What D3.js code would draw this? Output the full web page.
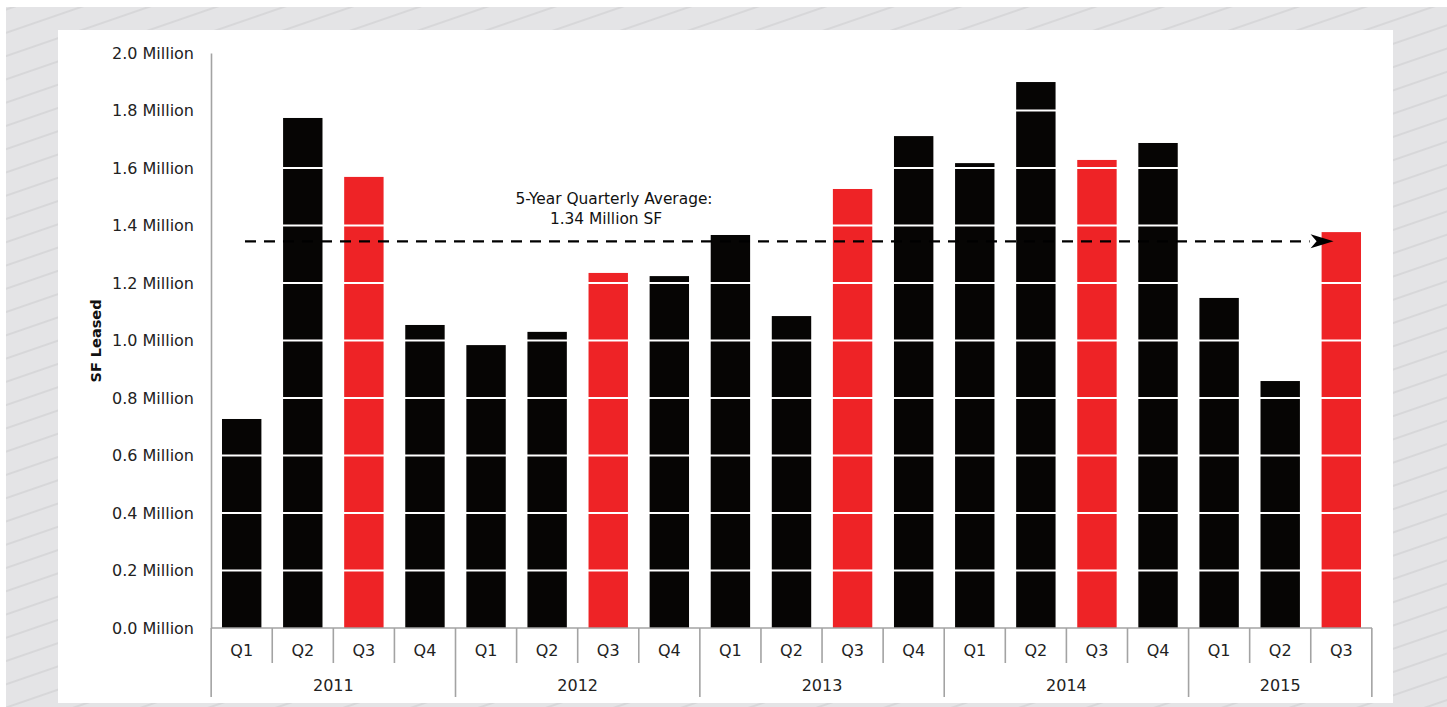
<!DOCTYPE html>
<html>
<head>
<meta charset="utf-8">
<script src="https://cdn.jsdelivr.net/npm/d3@7"></script>
<style>
  html, body { margin: 0; padding: 0; background: #ffffff; }
  svg { display: block; font-family: "DejaVu Sans", sans-serif; }
</style>
</head>
<body>
<svg id="chart" width="1447" height="707"></svg>
<script>
// -------*****--------^^^^-------*****--------
//               Data
// -------*****--------^^^^-------*****--------
var years = ["2011", "2012", "2013", "2014", "2015"];
var barYears    = ["2011","2011","2011","2011","2012","2012","2012","2012","2013","2013","2013","2013","2014","2014","2014","2014","2015","2015","2015"];
var barQuarters = ["Q1","Q2","Q3","Q4","Q1","Q2","Q3","Q4","Q1","Q2","Q3","Q4","Q1","Q2","Q3","Q4","Q1","Q2","Q3"];
// SF leased, in millions
var sfLeased = [0.727, 1.774, 1.569, 1.054, 0.984, 1.030, 1.235, 1.224, 1.367, 1.085, 1.527, 1.711, 1.617, 1.899, 1.628, 1.687, 1.148, 0.859, 1.377];

var yTicks = [0, 0.2, 0.4, 0.6, 0.8, 1.0, 1.2, 1.4, 1.6, 1.8, 2.0];
var yTickLabels = ["0.0 Million","0.2 Million","0.4 Million","0.6 Million","0.8 Million","1.0 Million","1.2 Million","1.4 Million","1.6 Million","1.8 Million","2.0 Million"];

var avgValue = 1.345;
var avgLines = ["5-Year Quarterly Average:", "1.34 Million SF"];
var yTitle = "SF Leased";

var BLACK = "#060504";
var RED = "#ee2326";
var AXIS_GREY = "#a3a3a3";

var bars = sfLeased.map(function(v, i) {
  return { key: barYears[i] + "-" + barQuarters[i], year: barYears[i], quarter: barQuarters[i], value: v };
});

var svg = d3.select("#chart");

// -------*****--------^^^^-------*****--------
//               Striped background + white panel
// -------*****--------^^^^-------*****--------
var defs = svg.append("defs");
var pat = defs.append("pattern")
    .attr("id", "stripes")
    .attr("patternUnits", "userSpaceOnUse")
    .attr("width", 60)
    .attr("height", 22)
    .attr("patternTransform", "rotate(-19)");
pat.append("rect").attr("width", 60).attr("height", 22).attr("fill", "#e4e4e6");
pat.append("line")
    .attr("x1", 0).attr("x2", 60).attr("y1", 11).attr("y2", 11)
    .attr("stroke", "#d3d3d5").attr("stroke-width", 1.6);

svg.append("rect")
    .attr("x", 6).attr("y", 7).attr("width", 1441).attr("height", 700)
    .attr("fill", "url(#stripes)");

svg.append("rect")
    .attr("x", 58).attr("y", 30).attr("width", 1335).attr("height", 673)
    .attr("fill", "#ffffff");

// -------*****--------^^^^-------*****--------
//               Scales
// -------*****--------^^^^-------*****--------
var xScale = d3.scaleBand()
    .domain(bars.map(function(d) { return d.key; }))
    .range([211, 1372])
    .paddingInner(0.355)
    .paddingOuter(0.18);

var yScale = d3.scaleLinear()
    .domain([0, 2])
    .range([628, 53]);

var halfGap = (xScale.step() - xScale.bandwidth()) / 2;
function bandStart(key) { return xScale(key) - halfGap; }

// -------*****--------^^^^-------*****--------
//               Bars + white gridlines on top
// -------*****--------^^^^-------*****--------
svg.append("g").selectAll("rect")
    .data(bars)
  .enter().append("rect")
    .attr("x", function(d) { return xScale(d.key); })
    .attr("y", function(d) { return yScale(d.value); })
    .attr("width", xScale.bandwidth())
    .attr("height", function(d) { return yScale(0) - yScale(d.value); })
    .style("fill", function(d) { return d.quarter == "Q3" ? RED : BLACK; });

svg.append("g").selectAll("line")
    .data(yTicks.filter(function(t) { return t > 0; }))
  .enter().append("line")
    .attr("x1", 212).attr("x2", 1372)
    .attr("y1", function(d) { return yScale(d); })
    .attr("y2", function(d) { return yScale(d); })
    .style("stroke", "#ffffff")
    .style("stroke-width", 2);

// -------*****--------^^^^-------*****--------
//               Y axis
// -------*****--------^^^^-------*****--------
var yAxis = svg.append("g")
    .attr("transform", "translate(211,0)")
    .call(d3.axisLeft(yScale)
      .tickValues(yTicks)
      .tickFormat(function(d, i) { return yTickLabels[i]; })
      .tickSize(0)
      .tickPadding(17));
yAxis.select(".domain").attr("stroke", AXIS_GREY).attr("stroke-width", 1.6);
yAxis.selectAll("text")
    .attr("font-family", "DejaVu Sans, sans-serif")
    .attr("font-size", 16)
    .attr("fill", "#222222");

svg.append("text")
    .attr("transform", "translate(101,341) rotate(-90)")
    .attr("text-anchor", "middle")
    .style("font-size", "14.5px")
    .style("font-weight", "bold")
    .style("fill", "#111111")
    .text(yTitle);

// -------*****--------^^^^-------*****--------
//               X axis (quarters + years)
// -------*****--------^^^^-------*****--------
var xg = svg.append("g");
xg.append("line")
    .attr("x1", 211).attr("x2", 1372)
    .attr("y1", yScale(0)).attr("y2", yScale(0))
    .style("stroke", AXIS_GREY).style("stroke-width", 1.6);

// quarter separators
xg.selectAll("line.qsep")
    .data(bars.filter(function(d) { return d.quarter != "Q1"; }))
  .enter().append("line")
    .attr("class", "qsep")
    .attr("x1", function(d) { return bandStart(d.key); })
    .attr("x2", function(d) { return bandStart(d.key); })
    .attr("y1", yScale(0)).attr("y2", 663)
    .style("stroke", AXIS_GREY).style("stroke-width", 1.6);

// year separators
var yearGroups = years.map(function(y) {
  var keys = bars.filter(function(d) { return d.year == y; }).map(function(d) { return d.key; });
  var x0 = bandStart(keys[0]);
  var x1 = bandStart(keys[keys.length - 1]) + xScale.step();
  return { year: y, x0: x0, x1: x1 };
});
var yearEdges = yearGroups.map(function(g) { return g.x0; }).concat([yearGroups[yearGroups.length - 1].x1]);
xg.selectAll("line.ysep")
    .data(yearEdges)
  .enter().append("line")
    .attr("class", "ysep")
    .attr("x1", function(d) { return d; })
    .attr("x2", function(d) { return d; })
    .attr("y1", yScale(0)).attr("y2", 697)
    .style("stroke", AXIS_GREY).style("stroke-width", 1.6);

xg.selectAll("text.q")
    .data(bars)
  .enter().append("text")
    .attr("class", "q")
    .attr("x", function(d) { return xScale(d.key) + xScale.bandwidth() / 2; })
    .attr("y", 656)
    .attr("text-anchor", "middle")
    .style("font-size", "16px")
    .style("fill", "#222222")
    .text(function(d) { return d.quarter; });

xg.selectAll("text.yr")
    .data(yearGroups)
  .enter().append("text")
    .attr("class", "yr")
    .attr("x", function(d) { return (d.x0 + d.x1) / 2; })
    .attr("y", 691)
    .attr("text-anchor", "middle")
    .style("font-size", "16px")
    .style("fill", "#222222")
    .text(function(d) { return d.year; });

// -------*****--------^^^^-------*****--------
//               5-year average dashed arrow
// -------*****--------^^^^-------*****--------
var avgY = yScale(avgValue);
var firstKey = bars[0].key, lastKey = bars[bars.length - 1].key;
var arrowTip = xScale(lastKey) + 12;
svg.append("line")
    .attr("x1", xScale(firstKey) + 23)
    .attr("x2", arrowTip - 24)
    .attr("y1", avgY).attr("y2", avgY)
    .style("stroke", "#000000")
    .style("stroke-width", 2.3)
    .style("stroke-dasharray", "11,8");

svg.append("path")
    .attr("d", "M" + arrowTip + "," + avgY +
               " L" + (arrowTip - 23) + "," + (avgY - 7) +
               " L" + (arrowTip - 17) + "," + avgY +
               " L" + (arrowTip - 23) + "," + (avgY + 7) + " Z")
    .style("fill", "#000000");

svg.selectAll("text.avg")
    .data(avgLines)
  .enter().append("text")
    .attr("class", "avg")
    .attr("x", function(d, i) { return i == 0 ? 614 : 606; })
    .attr("y", function(d, i) { return 204 + i * 20; })
    .attr("text-anchor", "middle")
    .style("font-size", "15.4px")
    .style("fill", "#111111")
    .text(function(d) { return d; });
</script>
</body>
</html>
